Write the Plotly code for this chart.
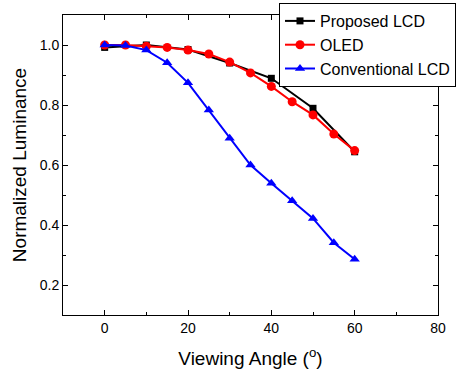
import plotly.graph_objects as go

angles_black = [0, 10, 20, 30, 40, 50, 60]
proposed_lcd = [0.992, 1.0, 0.985, 0.94, 0.889, 0.789, 0.644]

angles = [0, 5, 10, 15, 20, 25, 30, 35, 40, 45, 50, 55, 60]
oled = [1.0, 1.0, 0.996, 0.992, 0.983, 0.97, 0.943, 0.907, 0.862, 0.811, 0.767, 0.703, 0.648]
conventional_lcd = [1.0, 0.998, 0.983, 0.941, 0.874, 0.783, 0.689, 0.6, 0.539, 0.481, 0.422, 0.341, 0.286]

x_ticks = [0, 20, 40, 60, 80]
y_ticks = [0.2, 0.4, 0.6, 0.8, 1.0]
y_tick_labels = ["0.2", "0.4", "0.6", "0.8", "1.0"]

fig = go.Figure()
fig.add_trace(go.Scatter(x=angles_black, y=proposed_lcd, name="Proposed LCD",
                         mode="lines+markers", line=dict(color="black", width=2),
                         marker=dict(symbol="square", size=7, color="black")))
fig.add_trace(go.Scatter(x=angles, y=oled, name="OLED",
                         mode="lines+markers", line=dict(color="red", width=2),
                         marker=dict(symbol="circle", size=9, color="red")))
fig.add_trace(go.Scatter(x=angles, y=conventional_lcd, name="Conventional LCD",
                         mode="lines+markers", line=dict(color="blue", width=2),
                         marker=dict(symbol="triangle-up", size=9, color="blue")))

axis_common = dict(showline=True, linecolor="black", linewidth=1, mirror="ticks",
                   ticks="inside", ticklen=5, tickwidth=1, tickcolor="black",
                   showgrid=False, zeroline=False,
                   tickfont=dict(family="Liberation Sans, Arial", size=14, color="black"))

fig.update_xaxes(range=[-10, 80], tickvals=x_ticks,
                 minor=dict(dtick=10, ticks="inside", ticklen=3, tickcolor="black", showgrid=False),
                 title=dict(text="Viewing Angle (<sup>o</sup>)",
                            font=dict(family="Liberation Sans, Arial", size=19, color="black"),
                            standoff=16),
                 **axis_common)
fig.update_yaxes(range=[0.1, 1.1], tickvals=y_ticks, ticktext=y_tick_labels,
                 minor=dict(dtick=0.1, ticks="inside", ticklen=3, tickcolor="black", showgrid=False),
                 title=dict(text="Normalized Luminance",
                            font=dict(family="Liberation Sans, Arial", size=19, color="black"),
                            standoff=8),
                 **axis_common)

fig.update_layout(
    width=458, height=372,
    margin=dict(l=63, r=20, t=15, b=57, autoexpand=False),
    plot_bgcolor="white", paper_bgcolor="white",
    font=dict(family="Liberation Sans, Arial", color="black"),
    legend=dict(x=0.576, y=1.04, xanchor="left", yanchor="top",
                bordercolor="black", borderwidth=1, bgcolor="white",
                font=dict(family="Liberation Sans, Arial", size=16, color="black"),
                tracegroupgap=0, itemwidth=30),
    showlegend=True,
)

fig.write_html("out.html")
